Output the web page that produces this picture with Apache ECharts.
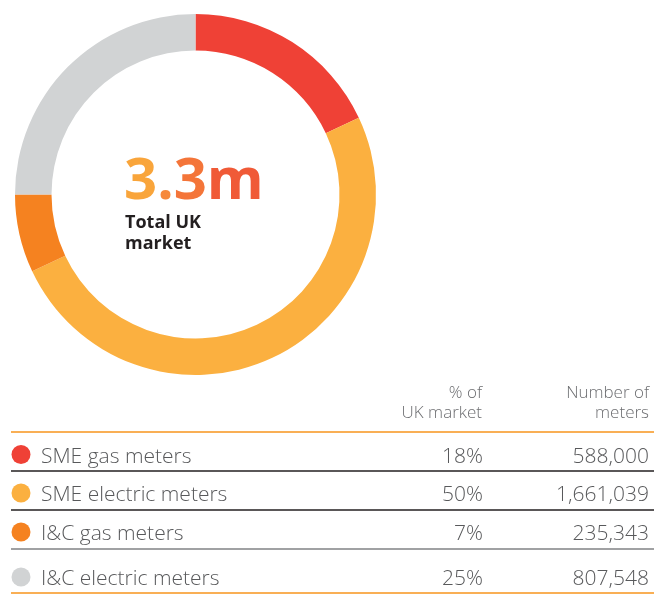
<!DOCTYPE html>
<html>
<head>
<meta charset="utf-8">
<script src="https://cdn.jsdelivr.net/npm/echarts@6/dist/echarts.min.js"></script>
<style>
  html, body { margin: 0; padding: 0; background: #fff; }
  #main { width: 654px; height: 594px; }
</style>
</head>
<body>
<div id="main"></div>
<script>
// data
const categories = ['SME gas meters', 'SME electric meters', 'I&C gas meters', 'I&C electric meters']
const shares = [18, 50, 7, 25] // % of UK market
const meters = ['588,000', '1,661,039', '235,343', '807,548']
const colors = ['#EF4136', '#FBB040', '#F58220', '#D1D3D4']
const totalLabel = '3.3m'
const totalCaption = ['Total UK', 'market']

const chart = echarts.init(document.getElementById('main'))

// row layout of the table under the donut
const rowY = [457, 495.5, 534.5, 579.5]
const lineY = [432, 471, 510, 549, 593]
const lineColor = ['#F7941D', '#231F20', '#231F20', '#808285', '#F7941D']
const rowFont = '300 21px "Open Sans"'

const graphics = []
// centre text, coloured letter by letter from yellow-orange to red
const bigFont = 'bold 58px "Open Sans"'
const letterColors = ['#F9A53B', '#F6883A', '#F47539', '#F05A37']
const rich = {}
let richText = ''
totalLabel.split('').forEach((ch, i) => {
  rich['c' + i] = { fill: letterColors[i], font: bigFont }
  richText += '{c' + i + '|' + ch + '}'
})
graphics.push({
  type: 'text',
  x: 124,
  y: 182,
  style: {
    text: richText,
    rich: rich,
    font: bigFont,
    verticalAlign: 'middle'
  }
})
totalCaption.forEach((t, i) => {
  graphics.push({
    type: 'text',
    x: 125,
    y: 223 + i * 21,
    style: { text: t, font: 'bold 18px "Open Sans"', fill: '#231F20', verticalAlign: 'middle' }
  })
})
// header
const header = [['% of', 'UK market', 482], ['Number of', 'meters', 649]]
header.forEach(h => {
  [h[0], h[1]].forEach((t, i) => {
    graphics.push({
      type: 'text',
      x: h[2],
      y: 393 + i * 20.5,
      style: { text: t, font: '300 17px "Open Sans"', fill: '#6D6E71', align: 'right', verticalAlign: 'middle' }
    })
  })
})
// rule lines
lineY.forEach((y, i) => {
  graphics.push({
    type: 'line',
    shape: { x1: 11, y1: y, x2: 654, y2: y },
    style: { stroke: lineColor[i], lineWidth: 1.5 }
  })
})
// rows
categories.forEach((name, i) => {
  graphics.push({
    type: 'circle',
    shape: { cx: 21, cy: rowY[i] - 2.5, r: 9.5 },
    style: { fill: colors[i] }
  })
  graphics.push({
    type: 'text',
    x: 41,
    y: rowY[i],
    style: { text: name, font: rowFont, fill: '#58595B', verticalAlign: 'middle' }
  })
  graphics.push({
    type: 'text',
    x: 483,
    y: rowY[i],
    style: { text: shares[i] + '%', font: rowFont, fill: '#58595B', align: 'right', verticalAlign: 'middle' }
  })
  graphics.push({
    type: 'text',
    x: 649,
    y: rowY[i],
    style: { text: meters[i], font: rowFont, fill: '#58595B', align: 'right', verticalAlign: 'middle' }
  })
})

const option = {
  animation: false,
  series: [
    {
      type: 'pie',
      center: [195.5, 194.5],
      radius: [144, 180.5],
      startAngle: 90,
      clockwise: true,
      silent: true,
      label: { show: false },
      labelLine: { show: false },
      itemStyle: { borderWidth: 0 },
      data: categories.map((name, i) => ({
        name: name,
        value: shares[i],
        itemStyle: { color: colors[i] }
      }))
    }
  ],
  graphic: graphics
}
chart.setOption(option)
</script>
</body>
</html>
